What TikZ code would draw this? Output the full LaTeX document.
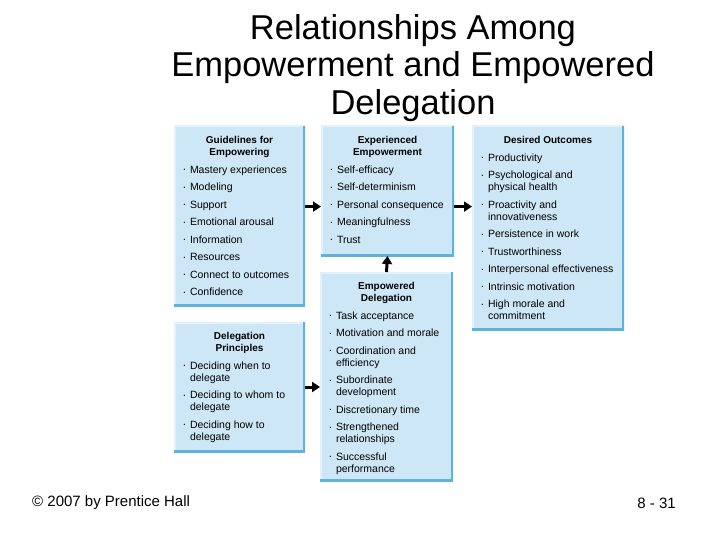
\documentclass[tikz,border=0pt]{standalone}
\usepackage{fontspec}
\setmainfont{Liberation Sans}
\usetikzlibrary{arrows.meta,calc,positioning}
\definecolor{EmpFill}{HTML}{CDE7F7}
\definecolor{EmpEdge}{HTML}{5FB2DC}
\definecolor{EmpLight}{HTML}{E2F1FB}
\newcommand\empbul{\raisebox{1.4pt}{\fontsize{5}{5}\selectfont\textbullet}}
\newcommand\emphead[1]{{\centering\bfseries\fontsize{10}{12}\selectfont #1\par}}
\newcommand\empitem[1]{\par\hangindent=6.5pt\hangafter=1\noindent\makebox[6.5pt][l]{\empbul}{\let\\\newline #1}}
\newcommand\empbox[3]{\parbox[c][#2][t]{#1}{\fontsize{10.5}{12}\selectfont
  \setlength\parskip{5.5pt}\setlength\parindent{0pt}\raggedright\vspace*{5pt}#3}}

\begin{document}
\begin{tikzpicture}[x=1pt,y=-1pt,
    panel/.style={anchor=north west,fill=EmpFill,inner xsep=9.5pt,inner ysep=0pt,outer sep=0pt,
      path picture={
        \draw[EmpLight,line width=3pt] (path picture bounding box.south west)
          -- (path picture bounding box.north west) -- (path picture bounding box.north east);
        \draw[EmpEdge,line width=5pt] (path picture bounding box.north east)
          -- (path picture bounding box.south east) -- (path picture bounding box.south west);
      }},
    arr/.style={-{Triangle[length=8pt,width=10pt]},line width=3pt},
    foot/.style={font=\fontsize{15}{17}\selectfont,inner sep=0pt}]
  \useasboundingbox (0,0) rectangle (720,540);

  \node[align=center,anchor=north,inner sep=0pt,font=\fontsize{34.5}{37.5}\selectfont]
    (title) at (413,14) {Relationships Among\\Empowerment and Empowered\\Delegation};

  % left column
  \node[panel] (guide) at (174,126) {\empbox{112pt}{180pt}{%
      \emphead{Guidelines for\\Empowering}
      \empitem{Mastery experiences}
      \empitem{Modeling}
      \empitem{Support}
      \empitem{Emotional arousal}
      \empitem{Information}
      \empitem{Resources}
      \empitem{Connect to outcomes}
      \empitem{Confidence}}};
  \node[panel] (princ) at (174,322) {\empbox{112pt}{130pt}{%
      \emphead{Delegation\\Principles}
      \empitem{Deciding when to\\delegate}
      \empitem{Deciding to whom to\\delegate}
      \empitem{Deciding how to\\delegate}}};

  % middle column
  \node[panel] (exper) at (321,126) {\empbox{114pt}{130pt}{%
      \emphead{Experienced\\Empowerment}
      \empitem{Self-efficacy}
      \empitem{Self-determinism}
      \empitem{Personal consequence}
      \empitem{Meaningfulness}
      \empitem{Trust}}};
  \node[panel] (deleg) at (320,272) {\empbox{114pt}{209pt}{%
      \emphead{Empowered\\Delegation}
      \empitem{Task acceptance}
      \empitem{Motivation and morale}
      \empitem{Coordination and\\efficiency}
      \empitem{Subordinate\\development}
      \empitem{Discretionary time}
      \empitem{Strengthened\\relationships}
      \empitem{Successful\\performance}}};

  % right column
  \node[panel] (desired) at (472,126) {\empbox{133pt}{204pt}{%
      \emphead{Desired Outcomes}
      \empitem{Productivity}
      \empitem{Psychological and\\physical health}
      \empitem{Proactivity and\\innovativeness}
      \empitem{Persistence in work}
      \empitem{Trustworthiness}
      \empitem{Interpersonal effectiveness}
      \empitem{Intrinsic motivation}
      \empitem{High morale and\\commitment}}};

  % arrows
  \coordinate (junc) at ($(exper.north west)!0.62!(exper.south west)$);
  \draw[arr] (guide.east |- junc) -- (junc);
  \draw[arr] (junc -| exper.east) -- (junc -| desired.west);
  \draw[arr] (deleg.north) -- (exper.south);
  \draw[arr] (princ.east) -- (princ.east -| deleg.west);

  \node[foot,anchor=west] (copy) at (32,503) {© 2007 by Prentice Hall};
  \node[foot,anchor=east] (slide) at (676,503) {8 - 31};
\end{tikzpicture}
\end{document}
